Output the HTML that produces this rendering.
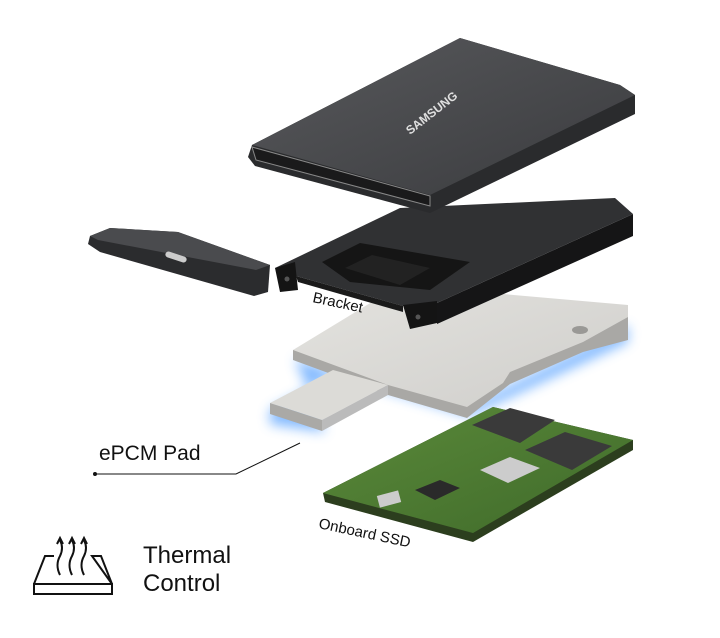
<!DOCTYPE html>
<html><head><meta charset="utf-8"><style>
html,body{margin:0;padding:0;background:#fff;}
svg{display:block}
text{font-family:"Liberation Sans",sans-serif;}
</style></head><body>
<svg width="720" height="638" viewBox="0 0 720 638" xmlns="http://www.w3.org/2000/svg">
<defs>
<linearGradient id="cs" x1="0" y1="0" x2="1" y2="1"><stop offset="0" stop-color="#58595c"/><stop offset="1" stop-color="#3a3b3e"/></linearGradient>
<linearGradient id="pd" x1="0" y1="0" x2="1" y2="1"><stop offset="0" stop-color="#e4e3df"/><stop offset="1" stop-color="#cfcecb"/></linearGradient>
<linearGradient id="pcb" x1="0" y1="0" x2="1" y2="1"><stop offset="0" stop-color="#5b8a3a"/><stop offset="1" stop-color="#3f6a2a"/></linearGradient>
<filter id="gl" x="-20%" y="-20%" width="140%" height="140%"><feGaussianBlur stdDeviation="6"/></filter>
</defs>
<!-- end cap -->
<polygon points="90,236 110,228 178,232 270,265 268,292 254,296 100,252 88,244" fill="#2b2c2e"/>
<polygon points="90,236 110,228 178,232 270,265 256,270 98,240" fill="#4a4b4e"/>
<rect x="165" y="254" width="22" height="6" rx="3" fill="#ccc" transform="rotate(18 176 257)"/>
<!-- pad glow -->
<polygon points="295,358 390,392 470,416 628,342 628,325 470,405 390,385 330,378 270,410 270,424 325,432" fill="#4f9dff" opacity="0.7" filter="url(#gl)"/>
<!-- pad -->
<polygon points="293,350 293,360 388,395 467,418 510,384 583,352 628,340 628,317" fill="#a9a8a5"/>
<polygon points="293,350 400,285 628,305 628,317 583,342 510,372 503,383 467,407 388,385" fill="url(#pd)"/>
<ellipse cx="580" cy="330" rx="8" ry="4" fill="#9a9996"/>
<polygon points="270,403 333,370 388,385 322,420" fill="#dcdbd7"/>
<polygon points="270,403 322,420 322,431 270,414" fill="#aaa9a6"/>
<polygon points="322,420 388,385 388,395 322,431" fill="#bbb"/>
<!-- bracket -->
<polygon points="437,303 633,214 633,236 437,324" fill="#151516"/>
<polygon points="275,268 400,208 615,198 633,214 437,303 403,306 296,276" fill="#303133"/>
<polygon points="296,276 403,306 403,312 298,282" fill="#1a1a1a"/>
<polygon points="275,268 295,262 298,290 280,292" fill="#141414"/>
<polygon points="403,305 437,301 437,323 410,329" fill="#141414"/>
<circle cx="287" cy="279" r="2.5" fill="#555"/>
<circle cx="418" cy="317" r="2.5" fill="#555"/>
<polygon points="322,262 360,243 470,262 430,290 350,282" fill="#151515"/>
<polygon points="345,268 372,255 430,268 400,285" fill="#222"/>
<!-- case -->
<polygon points="252,145 460,38 620,85 635,95 635,114 430,213 255,166 248,157" fill="#2a2b2d"/>
<polygon points="252,145 460,38 620,85 635,95 430,195" fill="url(#cs)"/>
<polygon points="252,147 430,196 430,206 256,160" fill="#1a1a1b" stroke="#888" stroke-width="1"/>
<text x="410" y="135" fill="#e0e0e0" font-size="12" font-weight="bold" transform="rotate(-38 410 135)">SAMSUNG</text>
<text x="312" y="302" fill="#111" font-size="15" transform="rotate(12 312 302)">Bracket</text>
<!-- pcb -->
<polygon points="323,493 493,407 633,440 633,450 473,542 325,502" fill="#2c3e1e"/>
<polygon points="323,493 493,407 633,440 473,533" fill="url(#pcb)"/>
<polygon points="472,425 510,408 555,420 520,443" fill="#3a3a3a"/>
<polygon points="525,450 565,432 612,446 572,470" fill="#3a3a3a"/>
<polygon points="480,470 510,457 540,468 508,483" fill="#ccc"/>
<polygon points="415,490 440,480 460,488 435,500" fill="#2a2a2a"/>
<rect x="378" y="493" width="22" height="12" fill="#ccc" transform="rotate(-15 389 499)"/>
<text x="318" y="528" fill="#111" font-size="15" transform="rotate(12 318 528)">Onboard SSD</text>
<!-- ePCM label -->
<text x="99" y="460" fill="#111" font-size="21">ePCM Pad</text>
<circle cx="95" cy="474" r="2" fill="#111"/>
<polyline points="95,474 236,474 300,443" fill="none" stroke="#111" stroke-width="1"/>
<!-- icon -->
<g fill="none" stroke="#111" stroke-width="2">
<path d="M34,584 L45,556 L54,556 M92,556 L101,556 L112,584 Z"/>
<path d="M34,584 L112,584 L112,594 L34,594 Z"/>
<path d="M60,575 Q55,565 60,556 Q64,548 60,540"/>
<path d="M72,575 Q67,565 72,556 Q76,548 72,540"/>
<path d="M84,575 Q79,565 84,556 Q88,548 84,540"/>
<path d="M57,544 L60,538 L63,544 M69,544 L72,538 L75,544 M81,544 L84,538 L87,544"/>
</g>
<text x="143" y="563" fill="#111" font-size="24">Thermal</text>
<text x="143" y="591" fill="#111" font-size="24">Control</text>
</svg>
</body></html>
